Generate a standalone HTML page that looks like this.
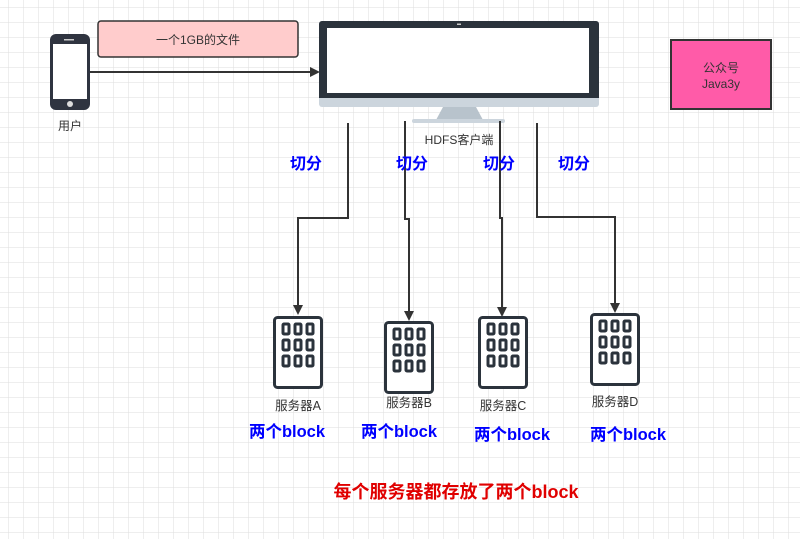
<!DOCTYPE html>
<html><head><meta charset="utf-8"><style>
html,body{margin:0;padding:0;background:#fff}
svg{display:block}
text{font-family:"Liberation Sans","Noto Sans CJK SC",sans-serif}
</style></head><body>
<svg width="800" height="539" viewBox="0 0 800 539" xmlns="http://www.w3.org/2000/svg">
<defs>
<pattern id="g" x="8" y="7" width="15" height="15" patternUnits="userSpaceOnUse">
<path d="M15 0H0V15" fill="none" stroke="#dedede" stroke-width="1"/>
</pattern>
<marker id="ar" markerWidth="10" markerHeight="10" refX="8" refY="5" orient="auto" markerUnits="userSpaceOnUse">
<path d="M0,0 L10,5 L0,10 z" fill="#333"/>
</marker>
<g id="srv">
<rect x="1.5" y="1.5" width="47" height="70" rx="3" fill="#fff" stroke="#2b333c" stroke-width="3"/>
<g fill="none" stroke="#2b333c" stroke-width="3">
<rect x="10" y="8" width="6" height="10" rx="1"/><rect x="22" y="8" width="6" height="10" rx="1"/><rect x="34" y="8" width="6" height="10" rx="1"/>
<rect x="10" y="24" width="6" height="10" rx="1"/><rect x="22" y="24" width="6" height="10" rx="1"/><rect x="34" y="24" width="6" height="10" rx="1"/>
<rect x="10" y="40" width="6" height="10" rx="1"/><rect x="22" y="40" width="6" height="10" rx="1"/><rect x="34" y="40" width="6" height="10" rx="1"/>
</g>
</g>
</defs>
<rect width="800" height="539" fill="url(#g)"/>

<rect x="50" y="34" width="40" height="76" rx="6" fill="#2f3440"/>
<rect x="53" y="44" width="34" height="55" fill="#fff"/>
<rect x="64" y="39" width="10" height="1.5" fill="#ccc"/>
<circle cx="70" cy="104" r="3" fill="#ddd"/>
<text x="70" y="130" font-size="12" fill="#333" text-anchor="middle">用户</text>

<rect x="98" y="21" width="200" height="36" rx="3" fill="#ffcccc" stroke="#333" stroke-width="1.5"/>
<text x="198" y="44" font-size="12" fill="#333" text-anchor="middle">一个1GB的文件</text>
<line x1="90" y1="72" x2="318" y2="72" stroke="#333" stroke-width="2" marker-end="url(#ar)"/>

<rect x="319" y="21" width="280" height="86" rx="3" fill="#ccd5dd"/>
<path d="M322,21 H596 a3,3 0 0 1 3,3 V98 H319 V24 a3,3 0 0 1 3,-3z" fill="#2b333c"/>
<rect x="327" y="28" width="262" height="65" fill="#fff"/>
<rect x="457" y="23.5" width="4" height="1.5" fill="#ccc"/>
<path d="M443,107 H476 L483,120 H436 Z" fill="#b8c3cc"/>
<rect x="412" y="119" width="93" height="4" rx="2" fill="#ccd5dd"/>
<text x="459" y="144" font-size="12" fill="#333" text-anchor="middle">HDFS客户端</text>

<rect x="671" y="40" width="100" height="69" fill="#ff5ba8" stroke="#333" stroke-width="2"/>
<text x="721" y="72" font-size="12" fill="#333" text-anchor="middle">公众号</text>
<text x="721" y="88" font-size="12" fill="#333" text-anchor="middle">Java3y</text>

<g fill="none" stroke="#333" stroke-width="2">
<polyline points="348,123 348,218 298,218 298,313" marker-end="url(#ar)"/>
<polyline points="405,121 405,219 409,219 409,319" marker-end="url(#ar)"/>
<polyline points="500,121 500,218 502,218 502,315" marker-end="url(#ar)"/>
<polyline points="537,123 537,217 615,217 615,311" marker-end="url(#ar)"/>
</g>
<g font-size="16" font-weight="bold" fill="#0000ff">
<text x="290" y="169">切分</text>
<text x="396" y="169">切分</text>
<text x="483" y="169">切分</text>
<text x="558" y="169">切分</text>
</g>

<use href="#srv" x="273" y="316"/>
<use href="#srv" x="384" y="321"/>
<use href="#srv" x="478" y="316"/>
<use href="#srv" x="590" y="313"/>
<g font-size="12.5" fill="#333" text-anchor="middle">
<text x="298" y="410">服务器A</text>
<text x="409" y="407">服务器B</text>
<text x="503" y="410">服务器C</text>
<text x="615" y="406">服务器D</text>
</g>
<g font-size="16.5" font-weight="bold" fill="#0000ff" text-anchor="middle">
<text x="287" y="437">两个block</text>
<text x="399" y="437">两个block</text>
<text x="512" y="440">两个block</text>
<text x="628" y="440">两个block</text>
</g>
<text x="456" y="498" font-size="18" font-weight="bold" fill="#e00000" text-anchor="middle">每个服务器都存放了两个block</text>
</svg>
</body></html>
